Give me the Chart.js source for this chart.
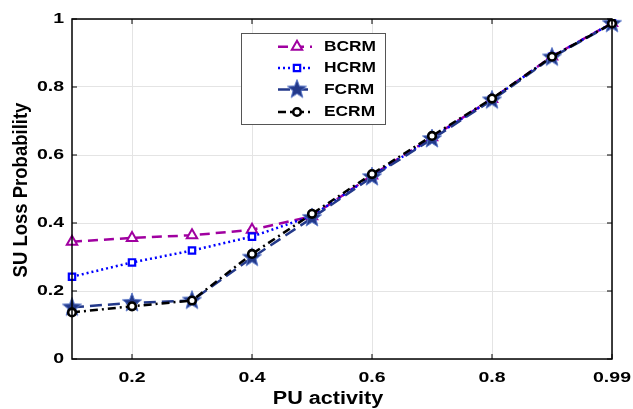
<!DOCTYPE html>
<html>
<head>
<meta charset="utf-8">
<script src="https://cdn.jsdelivr.net/npm/chart.js@4.4.0/dist/chart.umd.min.js"></script>
<style>
  html, body { margin: 0; padding: 0; background: #fff; }
  #wrap { width: 633px; height: 409px; }
</style>
</head>
<body>
<div id="wrap"><canvas id="chart" width="633" height="409"></canvas></div>
<script>
// data
const categories = ["0.1", "0.2", "0.3", "0.4", "0.5", "0.6", "0.7", "0.8", "0.9", "0.99"];
const shownTicks = ["0.2", "0.4", "0.6", "0.8", "0.99"];
const bcrm = [0.345, 0.356, 0.364, 0.380, 0.420, 0.540, 0.652, 0.765, 0.890, 0.988];
const hcrm = [0.242, 0.284, 0.319, 0.360, 0.421, 0.538, 0.650, 0.764, 0.889, 0.988];
const fcrm = [0.152, 0.165, 0.172, 0.298, 0.415, 0.535, 0.647, 0.761, 0.887, 0.986];
const ecrm = [0.137, 0.155, 0.172, 0.309, 0.427, 0.544, 0.656, 0.766, 0.889, 0.987];
const xTitle = "PU activity";
const yTitle = "SU Loss Probability";

const FONT = "'Liberation Sans', Arial, sans-serif";

// filled five point star marker
function makeStar(size, fill, edge) {
  const c = document.createElement("canvas");
  c.width = size; c.height = size;
  const g = c.getContext("2d");
  const cx = size / 2, cy = size / 2, ro = size / 2 - 1, ri = ro * 0.42;
  g.beginPath();
  for (let i = 0; i < 10; i++) {
    const r = i % 2 ? ri : ro;
    const a = -Math.PI / 2 + i * Math.PI / 5;
    g.lineTo(cx + r * Math.cos(a), cy + r * Math.sin(a));
  }
  g.closePath();
  g.fillStyle = fill;
  g.fill();
  g.lineWidth = 1;
  g.strokeStyle = edge;
  g.stroke();
  return c;
}
const star = makeStar(22, "#23398a", "#5b78c8");

const datasets = [
  { label: "BCRM", data: bcrm, borderColor: "#a000a0", borderDash: [10, 6], pointStyle: "triangle",
    pointRadius: 6, pointBorderWidth: 2, pointBackgroundColor: "#fff", order: 3 },
  { label: "HCRM", data: hcrm, borderColor: "#0000ff", borderDash: [2, 3], pointStyle: "rect",
    pointRadius: 4.5, pointBorderWidth: 2.2, pointBackgroundColor: "#fff", order: 2 },
  { label: "FCRM", data: fcrm, borderColor: "#23398a", borderDash: [12, 6], pointStyle: star,
    pointRadius: 11, pointBorderWidth: 1, pointBackgroundColor: "#23398a", order: 1 },
  { label: "ECRM", data: ecrm, borderColor: "#000", borderDash: [8, 4, 2, 4], pointStyle: "circle",
    pointRadius: 3.8, pointBorderWidth: 2.6, pointBackgroundColor: "#fff", order: 0 }
].map(d => Object.assign({
  borderWidth: 2.5, fill: false, tension: 0, pointBorderColor: d.borderColor,
  pointHoverRadius: d.pointRadius
}, d));

// text drawn a little wider, like the picture
function wideText(ctx, text, x, y, size, sx, align, rot) {
  ctx.save();
  ctx.translate(x, y);
  if (rot) ctx.rotate(rot);
  ctx.scale(rot ? 1 : sx, rot ? sx : 1);
  ctx.font = "bold " + size + "px " + FONT;
  ctx.textAlign = align;
  ctx.textBaseline = "middle";
  ctx.fillStyle = "#000";
  ctx.fillText(text, 0, 0);
  ctx.restore();
}

// axes box, inward ticks, labels and the legend box
const boxPlugin = {
  id: "box",
  afterDraw(chart) {
    const { ctx, chartArea: a, scales } = chart;
    ctx.save();
    ctx.strokeStyle = "#000";
    ctx.lineWidth = 1.5;
    ctx.strokeRect(a.left, a.top, a.right - a.left, a.bottom - a.top);
    ctx.lineWidth = 1;
    ctx.beginPath();
    scales.y.ticks.forEach((t, i) => {
      const y = scales.y.getPixelForTick(i);
      ctx.moveTo(a.left, y); ctx.lineTo(a.left + 5, y);
      ctx.moveTo(a.right, y); ctx.lineTo(a.right - 5, y);
    });
    categories.forEach((c, i) => {
      if (!shownTicks.includes(c)) return;
      const x = scales.x.getPixelForValue(i);
      ctx.moveTo(x, a.bottom); ctx.lineTo(x, a.bottom - 5);
      ctx.moveTo(x, a.top); ctx.lineTo(x, a.top + 5);
    });
    ctx.stroke();

    // tick labels and titles
    scales.y.ticks.forEach((t, i) => {
      const y = scales.y.getPixelForTick(i);
      wideText(ctx, Number(t.value.toFixed(1)).toString(), a.left - 8, y, 15, 1.3, "right");
    });
    categories.forEach((c, i) => {
      if (!shownTicks.includes(c)) return;
      wideText(ctx, c, scales.x.getPixelForValue(i), a.bottom + 19, 15, 1.3, "center");
    });
    wideText(ctx, xTitle, 328, 399, 18, 1.2, "center");
    wideText(ctx, yTitle, 21, (a.top + a.bottom) / 2 + 1, 18.5, 1.12, "center", -Math.PI / 2);

    // legend
    const lx = 241.5, ly = 33.5, lw = 144, lh = 91;
    ctx.fillStyle = "#fff";
    ctx.fillRect(lx, ly, lw, lh);
    ctx.strokeStyle = "#555";
    ctx.lineWidth = 1;
    ctx.strokeRect(lx, ly, lw, lh);
    const rows = [46.7, 68, 89.5, 112];
    chart.data.datasets.forEach((d, i) => {
      const y = rows[i];
      ctx.strokeStyle = d.borderColor;
      ctx.lineWidth = 2.5;
      ctx.setLineDash(d.borderDash);
      ctx.beginPath();
      ctx.moveTo(278, y); ctx.lineTo(312, y);
      ctx.stroke();
      ctx.setLineDash([]);
      ctx.fillStyle = d.pointBackgroundColor;
      ctx.strokeStyle = d.pointBorderColor;
      ctx.lineWidth = d.pointBorderWidth;
      Chart.helpers.drawPoint(ctx, {
        pointStyle: d.pointStyle, radius: d.pointStyle === star ? 10 : d.pointRadius,
        borderWidth: d.pointBorderWidth, rotation: 0
      }, 297, y);
      wideText(ctx, d.label, 324, y + 0.5, 14, 1.24, "left");
    });
    ctx.restore();
  }
};

new Chart(document.getElementById("chart"), {
  type: "line",
  data: { labels: categories, datasets },
  plugins: [boxPlugin],
  options: {
    responsive: false,
    animation: false,
    layout: { padding: { top: 19, right: 21, left: 0, bottom: 0 } },
    plugins: { legend: { display: false }, tooltip: { enabled: false } },
    scales: {
      x: {
        type: "category",
        offset: false,
        grid: {
          color: c => shownTicks.includes(categories[c.index]) ? "#e4e4e4" : "rgba(0,0,0,0)",
          drawTicks: false,
          lineWidth: 1
        },
        border: { display: false },
        ticks: { display: false, autoSkip: false },
        afterFit: s => { s.height = 50; }
      },
      y: {
        min: 0, max: 1,
        grid: { color: "#e4e4e4", drawTicks: false, lineWidth: 1 },
        border: { display: false },
        ticks: { display: false, stepSize: 0.2 },
        afterFit: s => { s.width = 72; }
      }
    }
  }
});
</script>
</body>
</html>
